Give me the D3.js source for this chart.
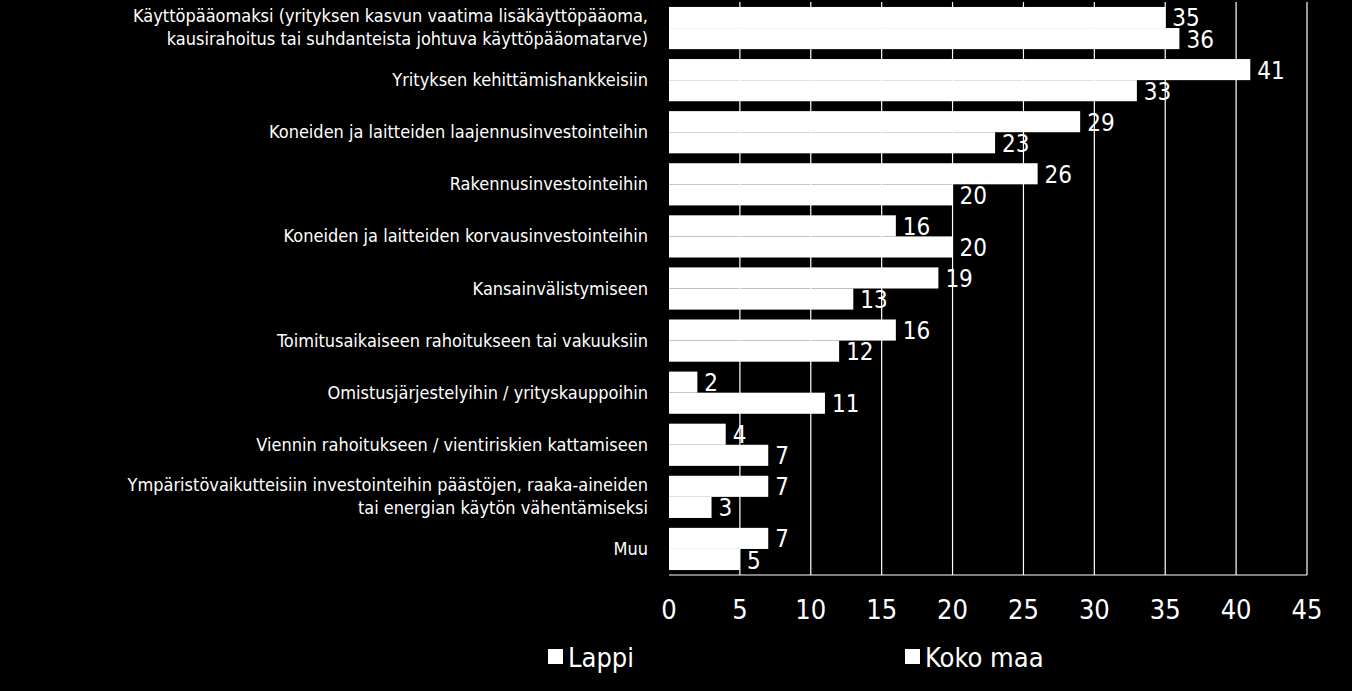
<!DOCTYPE html>
<html><head><meta charset="utf-8">
<script src="https://cdn.jsdelivr.net/npm/d3@7"></script>
<style>body{margin:0;background:#000}svg{display:block}text{font-family:"Liberation Sans Narrow","DejaVu Sans Condensed",sans-serif;font-stretch:condensed;fill:#fff}</style>
</head><body><svg id="c" width="1352" height="691"></svg>
<script>
const categories=[
"Käyttöpääomaksi (yrityksen kasvun vaatima lisäkäyttöpääoma,|kausirahoitus tai suhdanteista johtuva käyttöpääomatarve)",
"Yrityksen kehittämishankkeisiin",
"Koneiden ja laitteiden laajennusinvestointeihin",
"Rakennusinvestointeihin",
"Koneiden ja laitteiden korvausinvestointeihin",
"Kansainvälistymiseen",
"Toimitusaikaiseen rahoitukseen tai vakuuksiin",
"Omistusjärjestelyihin / yrityskauppoihin",
"Viennin rahoitukseen / vientiriskien kattamiseen",
"Ympäristövaikutteisiin investointeihin päästöjen, raaka-aineiden|tai energian käytön vähentämiseksi",
"Muu"];
const lappi=[35,41,29,26,16,19,16,2,4,7,7];
const kokoMaa=[36,33,23,20,20,13,12,11,7,3,5];
const seriesNames=["Lappi","Koko maa"];
const ticks=[0,5,10,15,20,25,30,35,40,45];

const svg=d3.select("#c");
const L=669,R=1307,T=2,B=575;
const x=d3.scaleLinear().domain([0,45]).range([L,R]);
const y=d3.scaleBand().domain(d3.range(categories.length)).range([T,B]).paddingInner(0.19).paddingOuter(0.095);
const sub=d3.scaleBand().domain([0,1]).range([0,y.bandwidth()]);

svg.append("g").selectAll("line").data(ticks.slice(1)).join("line")
 .attr("x1",d=>x(d)).attr("x2",d=>x(d)).attr("y1",T).attr("y2",B)
 .attr("stroke","#fff").attr("stroke-width",1.2);
svg.append("line").attr("x1",L).attr("x2",R).attr("y1",B).attr("y2",B).attr("stroke","#fff").attr("stroke-width",1.2);

const data=[lappi,kokoMaa];
const g=svg.append("g");
data.forEach((s,si)=>{
 g.selectAll(".b"+si).data(s).join("rect")
  .attr("x",x(0)).attr("y",(d,i)=>y(i)+sub(si)).attr("width",d=>x(d)-x(0)).attr("height",sub.bandwidth())
  .attr("fill","#fff");
 g.selectAll(".t"+si).data(s).join("text")
  .attr("x",d=>x(d)+7).attr("y",(d,i)=>y(i)+sub(si)+sub.bandwidth()/2+9)
  .attr("font-size",24).text(d=>d);
});
categories.forEach((c,i)=>{
 const lines=c.split("|");
 const t=svg.append("text").attr("text-anchor","end").attr("font-size",18)
  .attr("x",648).attr("y",y(i)+y.bandwidth()/2-(lines.length-1)*12+6);
 lines.forEach((l,k)=>t.append("tspan").attr("x",648).attr("dy",k?23:0).text(l));
});
svg.append("g").selectAll("text").data(ticks).join("text")
 .attr("x",d=>x(d)).attr("y",619).attr("text-anchor","middle").attr("font-size",27).text(d=>d);
const lx=[548,905];
seriesNames.forEach((n,i)=>{
 svg.append("rect").attr("x",lx[i]).attr("y",649).attr("width",15).attr("height",15).attr("fill","#fff");
 svg.append("text").attr("x",lx[i]+20).attr("y",667).attr("font-size",27).text(n);
});
</script></body></html>
